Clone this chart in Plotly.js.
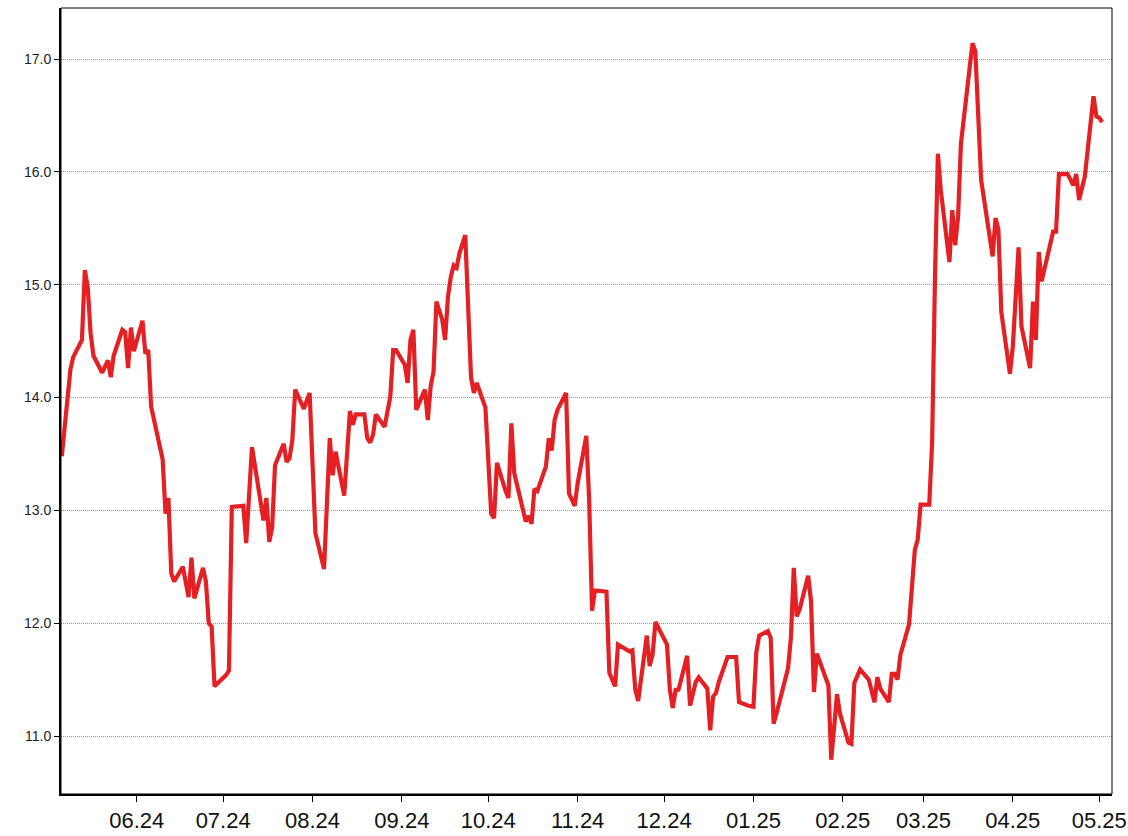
<!DOCTYPE html>
<html>
<head>
<meta charset="utf-8">
<script src="https://cdn.plot.ly/plotly-3.0.1.min.js"></script>
<style>
  html, body { margin: 0; padding: 0; background: #ffffff; }
  #chart { width: 1128px; height: 836px; }
</style>
</head>
<body>
<div id="chart"></div>
<script>
// ---- data ----
const dates = [
  "2024-05-06","2024-05-08","2024-05-09","2024-05-10","2024-05-13","2024-05-14","2024-05-15","2024-05-16","2024-05-17","2024-05-20","2024-05-22","2024-05-23","2024-05-24","2024-05-27","2024-05-28","2024-05-29","2024-05-30","2024-05-31",
  "2024-06-03","2024-06-04","2024-06-05","2024-06-06","2024-06-10","2024-06-11","2024-06-12","2024-06-13","2024-06-14","2024-06-17","2024-06-19","2024-06-20","2024-06-21","2024-06-24","2024-06-25","2024-06-26","2024-06-27","2024-06-28",
  "2024-07-02","2024-07-03","2024-07-04","2024-07-08","2024-07-09","2024-07-11","2024-07-15","2024-07-16","2024-07-17","2024-07-18","2024-07-19","2024-07-22","2024-07-23","2024-07-24","2024-07-25","2024-07-26","2024-07-29","2024-07-31",
  "2024-08-02","2024-08-05","2024-08-07","2024-08-08","2024-08-09","2024-08-12","2024-08-14","2024-08-15","2024-08-16","2024-08-19","2024-08-20","2024-08-21","2024-08-22","2024-08-23","2024-08-26","2024-08-28","2024-08-29","2024-08-30",
  "2024-09-02","2024-09-03","2024-09-04","2024-09-05","2024-09-06","2024-09-09","2024-09-10","2024-09-11","2024-09-12","2024-09-13","2024-09-15","2024-09-16","2024-09-17","2024-09-18","2024-09-19","2024-09-20","2024-09-21","2024-09-23","2024-09-25","2024-09-26","2024-09-27","2024-09-30",
  "2024-10-02","2024-10-03","2024-10-04","2024-10-07","2024-10-08","2024-10-09","2024-10-10","2024-10-14","2024-10-15","2024-10-16","2024-10-17","2024-10-18","2024-10-21","2024-10-22","2024-10-23","2024-10-24","2024-10-25","2024-10-28","2024-10-29","2024-10-31",
  "2024-11-01","2024-11-04","2024-11-05","2024-11-06","2024-11-07","2024-11-11","2024-11-12","2024-11-14","2024-11-15","2024-11-17","2024-11-19","2024-11-20","2024-11-21","2024-11-22","2024-11-25","2024-11-26","2024-11-27","2024-11-28",
  "2024-12-02","2024-12-03","2024-12-04","2024-12-05","2024-12-06","2024-12-09","2024-12-10","2024-12-12","2024-12-13","2024-12-16","2024-12-17","2024-12-18","2024-12-19","2024-12-20","2024-12-23","2024-12-26","2024-12-27","2024-12-30",
  "2025-01-01","2025-01-02","2025-01-03","2025-01-06","2025-01-07","2025-01-08","2025-01-09","2025-01-13","2025-01-14","2025-01-15","2025-01-16","2025-01-17","2025-01-20","2025-01-21","2025-01-22","2025-01-23","2025-01-27","2025-01-28","2025-01-30","2025-01-31",
  "2025-02-03","2025-02-04","2025-02-05","2025-02-07","2025-02-10","2025-02-12","2025-02-13","2025-02-14","2025-02-17","2025-02-18","2025-02-19","2025-02-20","2025-02-21","2025-02-24","2025-02-26","2025-02-27","2025-02-28",
  "2025-03-03","2025-03-04","2025-03-05","2025-03-06","2025-03-07","2025-03-10","2025-03-11","2025-03-12","2025-03-13","2025-03-14","2025-03-18","2025-03-19","2025-03-21","2025-03-25","2025-03-26","2025-03-27","2025-03-28","2025-03-31",
  "2025-04-01","2025-04-03","2025-04-04","2025-04-07","2025-04-08","2025-04-09","2025-04-10","2025-04-11","2025-04-15","2025-04-16","2025-04-17","2025-04-20","2025-04-22","2025-04-23","2025-04-24","2025-04-26","2025-04-29","2025-04-30",
  "2025-05-01","2025-05-02"
];

const values = [
  13.48,14.05,14.25,14.36,14.51,15.13,14.98,14.57,14.37,14.22,14.33,14.18,14.37,14.60,14.58,14.26,14.62,14.41,
  14.68,14.39,14.42,13.92,13.45,12.97,13.11,12.44,12.37,12.50,12.23,12.58,12.22,12.49,12.37,12.00,11.97,11.44,
  11.54,11.58,13.03,13.04,12.71,13.56,12.91,13.11,12.72,12.85,13.40,13.59,13.43,13.46,13.62,14.07,13.90,14.04,
  12.80,12.48,13.64,13.31,13.52,13.13,13.88,13.76,13.85,13.85,13.64,13.60,13.67,13.85,13.74,14.01,14.42,14.42,
  14.29,14.13,14.51,14.60,13.89,14.07,13.80,14.10,14.23,14.85,14.69,14.51,14.89,15.07,15.17,15.15,15.28,15.44,14.18,14.04,14.13,13.91,
  12.97,12.93,13.42,13.17,13.11,13.77,13.33,12.90,12.95,12.88,13.19,13.17,13.39,13.64,13.53,13.80,13.89,14.04,13.15,13.04,
  13.24,13.66,13.09,12.11,12.29,12.28,11.56,11.44,11.81,11.78,11.75,11.76,11.41,11.31,11.89,11.62,11.72,12.01,
  11.81,11.41,11.25,11.41,11.41,11.71,11.27,11.48,11.52,11.42,11.05,11.35,11.38,11.48,11.70,11.70,11.30,11.27,
  11.26,11.74,11.89,11.93,11.87,11.11,11.20,11.60,11.87,12.49,12.06,12.12,12.42,12.19,11.39,11.73,11.45,10.79,11.37,11.20,
  10.94,10.93,11.47,11.59,11.50,11.30,11.52,11.42,11.30,11.55,11.55,11.50,11.72,11.99,12.65,12.74,13.05,
  13.05,13.60,15.07,16.16,15.84,15.20,15.66,15.35,15.60,16.25,17.14,17.07,15.93,15.25,15.59,15.49,14.76,14.21,
  14.45,15.33,14.63,14.26,14.85,14.51,15.29,15.03,15.47,15.47,15.98,15.98,15.88,15.98,15.75,15.96,16.67,16.49,
  16.48,16.44
];

const tickDates = ["2024-06-01","2024-07-01","2024-08-01","2024-09-01","2024-10-01","2024-11-01","2024-12-01","2025-01-01","2025-02-01","2025-03-01","2025-04-01","2025-05-01"];
const tickLabels = ["06.24","07.24","08.24","09.24","10.24","11.24","12.24","01.25","02.25","03.25","04.25","05.25"];
const yTicks = [11, 12, 13, 14, 15, 16, 17];

const trace = {
  x: dates,
  y: values,
  type: "scatter",
  mode: "lines",
  line: { color: "#e52024", width: 4.2, shape: "linear" },
  hoverinfo: "x+y"
};

const layout = {
  width: 1128,
  height: 836,
  margin: { l: 61, r: 16, t: 8, b: 42, pad: 0 },
  paper_bgcolor: "#ffffff",
  plot_bgcolor: "#ffffff",
  showlegend: false,
  xaxis: {
    type: "date",
    range: ["2024-05-05 17:30", "2025-05-05 10:00"],
    tickmode: "array",
    tickvals: tickDates,
    ticktext: tickLabels,
    ticks: "outside",
    ticklen: 6,
    tickwidth: 1,
    tickcolor: "#000000",
    showgrid: false,
    zeroline: false,
    showline: true,
    linecolor: "#000000",
    linewidth: 2,
    tickfont: { family: "'Liberation Sans Narrow', 'Liberation Sans', Arial, sans-serif", size: 22, color: "#111111" }
  },
  yaxis: {
    range: [10.486, 17.452],
    tickmode: "array",
    tickvals: yTicks,
    tickformat: ".1f",
    ticks: "outside",
    ticklen: 5,
    tickwidth: 1,
    tickcolor: "#000000",
    showgrid: true,
    gridcolor: "#999999",
    griddash: "1px,1px",
    gridwidth: 1,
    zeroline: false,
    showline: true,
    linecolor: "#000000",
    linewidth: 2,
    tickfont: { family: "'Liberation Sans', Arial, sans-serif", size: 14, color: "#222222" }
  },
  shapes: [
    { type: "rect", xref: "paper", yref: "paper", x0: 0, x1: 1, y0: 0, y1: 1,
      line: { color: "#000000", width: 1 }, fillcolor: "rgba(0,0,0,0)", layer: "above" }
  ]
};

Plotly.newPlot("chart", [trace], layout, { displayModeBar: false, staticPlot: true });
</script>
</body>
</html>
